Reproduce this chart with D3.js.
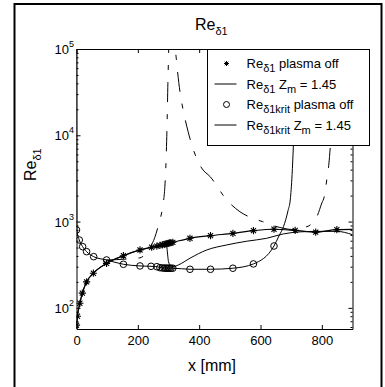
<!DOCTYPE html>
<html>
<head>
<meta charset="utf-8">
<script src="https://cdn.jsdelivr.net/npm/d3@7"></script>
<style>
  html, body { margin: 0; padding: 0; background: #fff; }
  svg text { font-family: "Liberation Sans", Arial, Helvetica, sans-serif; fill: #000; }
</style>
</head>
<body>
<svg id="chart" width="385" height="387"></svg>
<script>
// ---------------- data ----------------
const xTicks = [0, 200, 400, 600, 800];
const yTicks = [1e2, 1e3, 1e4, 1e5];
const yTickExp = ["2", "3", "4", "5"];
const yMinor = [60, 70, 80, 90, 200, 300, 400, 500, 600, 700, 800, 900,
  2000, 3000, 4000, 5000, 6000, 7000, 8000, 9000,
  20000, 30000, 40000, 50000, 60000, 70000, 80000, 90000];

// Re_d1 plasma off : markers (asterisks)
const reOffMarkX = [0, 3, 11, 19, 33, 55, 98, 153, 207, 245, 262, 272, 280, 286, 291, 295, 299, 303, 308, 314, 370, 437, 510, 577, 644, 713, 780, 849];
const reOffMarkY = [63, 80, 113, 148, 200, 252, 328, 402, 469, 504, 520, 530, 538, 545, 550, 555, 560, 565, 570, 575, 640, 687, 731, 785, 815, 790, 755, 805];
// Re_d1 plasma off : line
const reOffLineX = [0, 3, 11, 19, 33, 55, 98, 153, 207, 245, 290, 314, 370, 437, 510, 577, 644, 713, 780, 849, 900];
const reOffLineY = [63, 80, 113, 148, 200, 252, 328, 402, 469, 504, 550, 575, 640, 687, 731, 785, 815, 790, 755, 805, 810];

// Re_d1 Zm = 1.45 : line
const reZmX = [0, 3, 11, 19, 33, 55, 98, 153, 207, 245, 290, 294, 297, 300, 306, 316, 332, 370, 425, 490, 555, 620, 675, 730, 784, 849, 900];
const reZmY = [63, 80, 113, 148, 200, 252, 328, 402, 469, 504, 550, 520, 420, 343, 312, 300, 314, 376, 469, 536, 592, 640, 720, 760, 770, 770, 705];

// Re_d1krit plasma off : markers (circles)
const kritOffMarkX = [0, 9, 20, 33, 56, 98, 153, 207, 243, 262, 272, 280, 286, 291, 295, 299, 303, 308, 314, 370, 437, 510, 577, 644];
const kritOffMarkY = [800, 612, 512, 448, 392, 359, 320, 306, 303, 300, 292, 290, 289, 288, 288, 288, 288, 288, 288, 280, 280, 288, 323, 521];
// Re_d1krit plasma off : line
const kritOffLineX = [0, 1, 9, 20, 33, 56, 98, 153, 207, 243, 262, 280, 300, 314, 370, 437, 510, 577, 644, 660, 675, 690, 697, 703, 707, 710, 714];
const kritOffLineY = [2e5, 800, 612, 512, 448, 392, 359, 320, 306, 303, 300, 290, 288, 288, 280, 280, 288, 323, 521, 680, 873, 1350, 1780, 3500, 7300, 15000, 1.2e5];

// Re_d1krit Zm = 1.45 : dashed, upstream branch
const kritZmAX = [98, 130, 153, 180, 207, 225, 240, 255, 267, 275, 283, 288, 292, 295, 298, 300, 302];
const kritZmAY = [359, 362, 366, 372, 380, 420, 500, 650, 900, 1150, 1640, 2500, 5000, 12000, 40000, 80000, 1.5e5];
// Re_d1krit Zm = 1.45 : dashed, downstream branch
const kritZmBX = [318, 321, 325, 329, 338, 350, 364, 376, 408, 436, 490, 533, 572, 606, 640, 680, 700, 718, 740, 762, 784, 800, 808, 816, 825, 832, 838];
const kritZmBY = [2e5, 1.1e5, 80000, 57100, 30900, 18000, 11000, 7730, 4180, 3310, 1780, 1300, 1100, 1000, 900, 830, 810, 810, 850, 912, 1140, 1640, 1950, 3040, 5650, 15000, 1.2e5];

const legendLabels = [
  [["Re", 0], ["δ1", 1], [" plasma off", 0]],
  [["Re", 0], ["δ1", 1], [" Z", 0], ["m", 1], [" = 1.45", 0]],
  [["Re", 0], ["δ1krit", 1], [" plasma off", 0]],
  [["Re", 0], ["δ1krit", 1], [" Z", 0], ["m", 1], [" = 1.45", 0]]
];
const legendKinds = ["star", "line", "circle", "line"];

// ---------------- layout ----------------
const svg = d3.select("#chart");
const L = 76.5, R = 352.5, T = 49, B = 329;
const x = d3.scaleLinear().domain([0, 900]).range([L, R]);
const y = d3.scaleLog().domain([Math.pow(10, 1.755), 1e5]).range([B, T]);

svg.append("rect").attr("x", 0).attr("y", 0).attr("width", 385).attr("height", 387).attr("fill", "#fff");
// outer figure frame
svg.append("rect").attr("x", 14.5).attr("y", 4).attr("width", 367).attr("height", 392)
  .attr("fill", "none").attr("stroke", "#000").attr("stroke-width", 2);

svg.append("defs").append("clipPath").attr("id", "clip")
  .append("rect").attr("x", L).attr("y", T).attr("width", R - L).attr("height", B - T);

const plot = svg.append("g").attr("clip-path", "url(#clip)");

const zip = (xs, ys) => xs.map((v, i) => [v, ys[i]]);
const lineGen = d3.line().x(d => x(d[0])).y(d => y(d[1])).curve(d3.curveMonotoneX);

function drawLine(xs, ys, dash, w) {
  plot.append("path").datum(zip(xs, ys))
    .attr("d", lineGen).attr("fill", "none").attr("stroke", "#000")
    .attr("stroke-width", w || 1).attr("stroke-dasharray", dash || null);
}

const dashPat = "20,12,5,12";
drawLine(kritZmAX, kritZmAY, dashPat, 1);
drawLine(kritZmBX, kritZmBY, dashPat, 1);
drawLine(kritOffLineX, kritOffLineY, null, 1);
drawLine(reZmX, reZmY, null, 1);
drawLine(reOffLineX, reOffLineY, null, 1.2);

function starPath(s) {
  const a = s * 0.7071;
  return `M${-s},0L${s},0M0,${-s}L0,${s}M${-a},${-a}L${a},${a}M${-a},${a}L${a},${-a}`;
}

plot.selectAll("circle.k").data(zip(kritOffMarkX, kritOffMarkY)).enter()
  .append("circle").attr("class", "k")
  .attr("cx", d => x(d[0])).attr("cy", d => y(d[1])).attr("r", 3.3)
  .attr("fill", "none").attr("stroke", "#000").attr("stroke-width", 1);

plot.selectAll("path.s").data(zip(reOffMarkX, reOffMarkY)).enter()
  .append("path").attr("class", "s")
  .attr("transform", d => `translate(${x(d[0])},${y(d[1])})`)
  .attr("d", starPath(3.6)).attr("fill", "none").attr("stroke", "#000").attr("stroke-width", 1.1);

// ---------------- axes ----------------
function styleAxis(g) {
  g.selectAll("path.domain").attr("stroke", "#000").attr("stroke-width", 1);
  g.selectAll(".tick line").attr("stroke", "#000").attr("stroke-width", 1);
}
const gB = svg.append("g").attr("transform", `translate(0,${B})`)
  .call(d3.axisBottom(x).tickValues(xTicks).tickSize(-4).tickSizeOuter(0).tickPadding(7));
styleAxis(gB);
gB.selectAll("text").attr("font-size", 13).attr("font-family", "Liberation Sans, Arial, sans-serif").attr("fill", "#000");

const gT = svg.append("g").attr("transform", `translate(0,${T})`)
  .call(d3.axisTop(x).tickValues(xTicks).tickSize(-4).tickSizeOuter(0).tickFormat(""));
styleAxis(gT);

const gL = svg.append("g").attr("transform", `translate(${L},0)`)
  .call(d3.axisLeft(y).tickValues(yTicks).tickSize(-4).tickSizeOuter(0).tickFormat(""));
styleAxis(gL);
const gLm = svg.append("g").attr("transform", `translate(${L},0)`)
  .call(d3.axisLeft(y).tickValues(yMinor).tickSize(-2).tickSizeOuter(0).tickFormat(""));
styleAxis(gLm); gLm.select("path.domain").remove();

const gR = svg.append("g").attr("transform", `translate(${R},0)`)
  .call(d3.axisRight(y).tickValues(yTicks).tickSize(-4).tickSizeOuter(0).tickFormat(""));
styleAxis(gR);
const gRm = svg.append("g").attr("transform", `translate(${R},0)`)
  .call(d3.axisRight(y).tickValues(yMinor).tickSize(-2).tickSizeOuter(0).tickFormat(""));
styleAxis(gRm); gRm.select("path.domain").remove();

// y tick labels 10^n
yTicks.forEach((v, i) => {
  const t = svg.append("text").attr("x", 74).attr("y", y(v) + 5)
    .attr("text-anchor", "end").attr("font-size", 13);
  t.append("tspan").text("10");
  t.append("tspan").attr("dy", -7).attr("font-size", 9).text(yTickExp[i]);
});

// title
const title = svg.append("text").attr("x", 195).attr("y", 29.5).attr("font-size", 16);
title.append("tspan").text("Re");
title.append("tspan").attr("dy", 5).attr("font-size", 11).text("δ1");

// y label
const yl = svg.append("text").attr("transform", "translate(36,181) rotate(-90)").attr("font-size", 16);
yl.append("tspan").text("Re");
yl.append("tspan").attr("dy", 5).attr("font-size", 11).text("δ1");

// x label
svg.append("text").attr("x", 212).attr("y", 371).attr("text-anchor", "middle")
  .attr("font-size", 16).text("x [mm]");

// ---------------- legend ----------------
const lg = svg.append("g");
lg.append("rect").attr("x", 207.5).attr("y", 49.5).attr("width", 162).attr("height", 96)
  .attr("fill", "#fff").attr("stroke", "#000").attr("stroke-width", 1);
const rowBase = [68, 88.5, 109, 129.5];
legendLabels.forEach((parts, i) => {
  const by = rowBase[i];
  const cy = by - 4.5;
  if (legendKinds[i] === "star") {
    lg.append("path").attr("transform", `translate(226.5,${cy})`).attr("d", starPath(2.5))
      .attr("fill", "none").attr("stroke", "#000").attr("stroke-width", 1);
  } else if (legendKinds[i] === "circle") {
    lg.append("circle").attr("cx", 226.5).attr("cy", cy).attr("r", 3)
      .attr("fill", "none").attr("stroke", "#000").attr("stroke-width", 1);
  } else {
    lg.append("line").attr("x1", 214.5).attr("x2", 236.5).attr("y1", cy).attr("y2", cy)
      .attr("stroke", "#000").attr("stroke-width", 1);
  }
  const t = lg.append("text").attr("x", 246.5).attr("y", by).attr("font-size", 13);
  let sub = 0;
  parts.forEach(p => {
    const ts = t.append("tspan").text(p[0]);
    if (p[1] && !sub) { ts.attr("dy", 4).attr("font-size", 11); sub = 1; }
    else if (p[1]) { ts.attr("font-size", 11); }
    else if (!p[1] && sub) { ts.attr("dy", -4); sub = 0; }
  });
});
</script>
</body>
</html>
